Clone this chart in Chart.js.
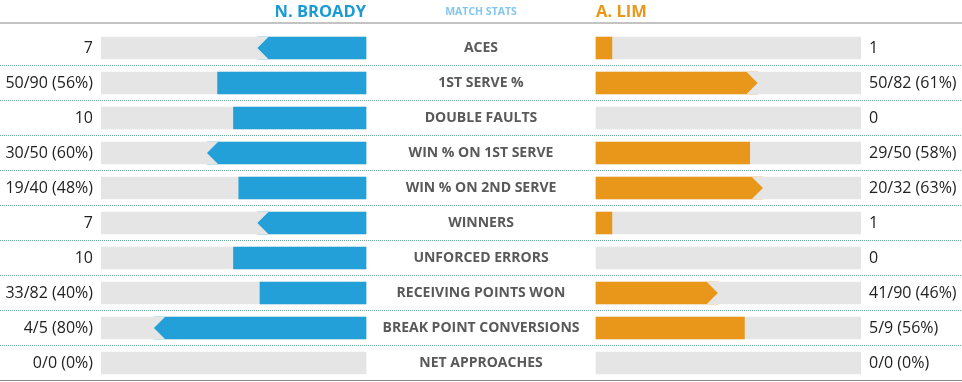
<!DOCTYPE html>
<html>
<head>
<meta charset="utf-8">
<script src="https://cdn.jsdelivr.net/npm/chart.js@4/dist/chart.umd.min.js"></script>
<style>
  html, body { margin: 0; padding: 0; background: #fff; }
  #stats { display: block; }
</style>
</head>
<body>
<canvas id="stats" width="962" height="382"></canvas>
<script>
// Stat rows, top to bottom
const categories = ['ACES', '1ST SERVE %', 'DOUBLE FAULTS', 'WIN % ON 1ST SERVE', 'WIN % ON 2ND SERVE',
  'WINNERS', 'UNFORCED ERRORS', 'RECEIVING POINTS WON', 'BREAK POINT CONVERSIONS', 'NET APPROACHES'];

// Player names
const playerLeft = 'N. BROADY';
const playerRight = 'A. LIM';

// Text shown beside each bar
const leftLabels = ['7', '50/90 (56%)', '10', '30/50 (60%)', '19/40 (48%)', '7', '10', '33/82 (40%)', '4/5 (80%)', '0/0 (0%)'];
const rightLabels = ['1', '50/82 (61%)', '0', '29/50 (58%)', '20/32 (63%)', '1', '0', '41/90 (46%)', '5/9 (56%)', '0/0 (0%)'];

// Bar fill (percent of the track)
const leftValues = [41, 56, 50, 60, 48, 41, 50, 40, 80, 0];
const rightValues = [6, 61, 0, 58, 63, 6, 0, 46, 56, 0];

// Which side won the row (gets a pointed bar end)
const leftWins = [true, false, false, true, false, true, false, false, true, false];
const rightWins = [false, true, false, false, true, false, false, true, false, false];

// Half of the center gap, in track units
const GAP = 43.4;
const FULL = 100;

const BLUE = '#23a0d8';
const ORANGE = '#e8971b';
const TRACK = '#e5e5e5';
const FONT = '"Open Sans", "Noto Sans", sans-serif';

// Floating bars: left side grows leftwards from -GAP, right side rightwards from +GAP
const leftTrack = categories.map(() => [-GAP - FULL, -GAP]);
const rightTrack = categories.map(() => [GAP, GAP + FULL]);
const leftBars = leftValues.map(v => v > 0 ? [-GAP - v, -GAP] : null);
const rightBars = rightValues.map(v => v > 0 ? [GAP, GAP + v] : null);

// Plugin for separators, arrow tips and all text
const statsDecor = {
  id: 'statsDecor',
  beforeDatasetsDraw(chart) {
    const ctx = chart.ctx;
    const y = chart.scales.y;
    const area = chart.chartArea;
    ctx.save();
    // top solid rule
    ctx.strokeStyle = '#888';
    ctx.lineWidth = 1;
    ctx.beginPath();
    ctx.moveTo(0, area.top - 7.5);
    ctx.lineTo(chart.width, area.top - 7.5);
    ctx.stroke();
    // dotted separators between rows
    ctx.strokeStyle = '#6aa99a';
    ctx.setLineDash([1, 1]);
    for (let i = 0; i < categories.length - 1; i++) {
      const yy = Math.floor((y.getPixelForValue(i) + y.getPixelForValue(i + 1)) / 2) + 0.5;
      ctx.beginPath();
      ctx.moveTo(0, yy);
      ctx.lineTo(chart.width, yy);
      ctx.stroke();
    }
    ctx.setLineDash([]);
    // bottom solid rule
    ctx.strokeStyle = '#888';
    ctx.beginPath();
    ctx.moveTo(0, Math.floor(area.bottom) + 0.5);
    ctx.lineTo(chart.width, Math.floor(area.bottom) + 0.5);
    ctx.stroke();
    ctx.restore();
  },
  afterDatasetsDraw(chart) {
    const ctx = chart.ctx;
    ctx.save();
    ctx.fillStyle = TRACK;
    const carve = (bar, pointLeft) => {
      const p = bar.getProps(['x', 'base', 'height', 'y']);
      const half = p.height / 2;
      const top = p.y - half;
      const bottom = p.y + half;
      const tip = pointLeft ? Math.min(p.x, p.base) : Math.max(p.x, p.base);
      const d = pointLeft ? half : -half;
      const out = pointLeft ? -1.5 : 1.5;
      ctx.beginPath();
      ctx.moveTo(tip + out, top);
      ctx.lineTo(tip + d, top);
      ctx.lineTo(tip, p.y);
      ctx.lineTo(tip + d, bottom);
      ctx.lineTo(tip + out, bottom);
      ctx.closePath();
      ctx.fill();
    };
    chart.getDatasetMeta(0).data.forEach((bar, i) => { if (leftWins[i] && leftBars[i]) carve(bar, true); });
    chart.getDatasetMeta(1).data.forEach((bar, i) => { if (rightWins[i] && rightBars[i]) carve(bar, false); });
    ctx.restore();
  },
  afterDraw(chart) {
    const ctx = chart.ctx;
    const x = chart.scales.x;
    const y = chart.scales.y;
    const leftEdge = x.getPixelForValue(-GAP);
    const rightEdge = x.getPixelForValue(GAP);
    const center = x.getPixelForValue(0);
    const outerLeft = x.getPixelForValue(-GAP - FULL);
    const outerRight = x.getPixelForValue(GAP + FULL);
    ctx.save();
    // header
    ctx.textBaseline = 'alphabetic';
    ctx.font = 'bold 16.5px ' + FONT;
    ctx.fillStyle = '#1b9ad6';
    ctx.textAlign = 'right';
    ctx.fillText(playerLeft, leftEdge, 17);
    ctx.fillStyle = ORANGE;
    ctx.textAlign = 'left';
    ctx.fillText(playerRight, rightEdge, 17);
    ctx.font = 'bold 10.5px ' + FONT;
    ctx.fillStyle = '#84c6f2';
    ctx.textAlign = 'center';
    ctx.fillText('MATCH STATS', center, 15);
    // rows
    ctx.textBaseline = 'middle';
    categories.forEach((cat, i) => {
      const yy = y.getPixelForValue(i) + 0.5;
      ctx.font = 'bold 14px ' + FONT;
      ctx.fillStyle = '#595959';
      ctx.textAlign = 'center';
      ctx.fillText(cat, center, yy);
      ctx.font = '16px ' + FONT;
      ctx.fillStyle = '#222';
      ctx.textAlign = 'right';
      ctx.fillText(leftLabels[i], outerLeft - 8, yy);
      ctx.textAlign = 'left';
      ctx.fillText(rightLabels[i], outerRight + 8, yy);
    });
    ctx.restore();
  }
};

new Chart(document.getElementById('stats'), {
  type: 'bar',
  data: {
    labels: categories,
    datasets: [
      { data: leftBars, backgroundColor: BLUE, order: 1 },
      { data: rightBars, backgroundColor: ORANGE, order: 1 },
      { data: leftTrack, backgroundColor: TRACK, order: 2 },
      { data: rightTrack, backgroundColor: TRACK, order: 2 }
    ]
  },
  options: {
    indexAxis: 'y',
    responsive: false,
    devicePixelRatio: 1,
    animation: false,
    layout: { padding: { left: 101, right: 101, top: 30.5, bottom: 1.5 } },
    datasets: { bar: { grouped: false, barThickness: 22, borderWidth: 0, borderSkipped: false } },
    scales: {
      x: { type: 'linear', min: -GAP - FULL, max: GAP + FULL, display: false },
      y: { type: 'category', display: false, offset: true }
    },
    plugins: {
      legend: { display: false },
      tooltip: { enabled: false }
    }
  },
  plugins: [statsDecor]
});
</script>
</body>
</html>
